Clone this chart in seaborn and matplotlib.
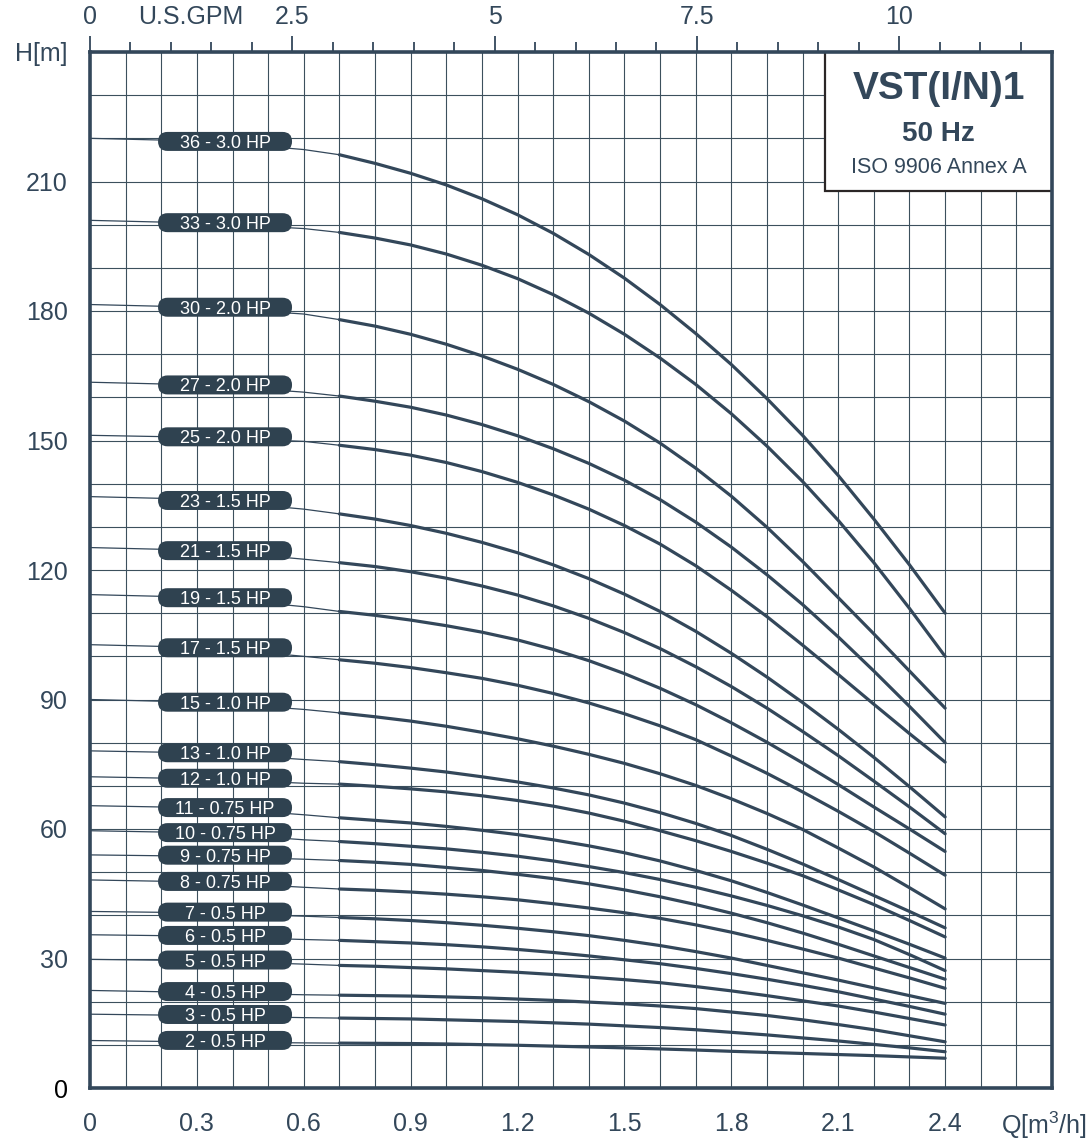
import numpy as np
import pandas as pd
import matplotlib
matplotlib.use("Agg")
import matplotlib.pyplot as plt
import seaborn as sns
from matplotlib.patches import FancyBboxPatch, Rectangle
from matplotlib.transforms import ScaledTranslation
from matplotlib.ticker import MultipleLocator

# ---------------------------------------------------------------- data
flow = [0.0, 0.2, 0.4, 0.6, 0.7, 0.8, 0.9, 1.0, 1.1, 1.2, 1.3, 1.4, 1.5,
        1.6, 1.7, 1.8, 1.9, 2.0, 2.1, 2.2, 2.3, 2.4]

stages = [36, 33, 30, 27, 25, 23, 21, 19, 17, 15, 13, 12, 11, 10, 9, 8, 7, 6, 5, 4, 3, 2]
motor_hp = ["3.0", "3.0", "2.0", "2.0", "2.0", "1.5", "1.5", "1.5", "1.5", "1.0", "1.0",
            "1.0", "0.75", "0.75", "0.75", "0.75", "0.5", "0.5", "0.5", "0.5", "0.5", "0.5"]

head_36 = [220.0, 219.6, 218.8, 217.4, 216.2, 214.2, 211.9, 209.2, 206.0, 202.3, 198.0,
           193.1, 187.6, 181.5, 174.8, 167.6, 159.7, 151.2, 141.9, 131.8, 121.2, 110.0]
head_33 = [201.0, 200.6, 200.0, 199.1, 198.2, 196.9, 195.3, 193.2, 190.6, 187.5, 183.8,
           179.5, 174.6, 169.1, 163.0, 156.2, 148.7, 140.5, 131.5, 121.7, 111.1, 100.0]
head_30 = [181.5, 181.1, 180.4, 179.3, 178.0, 176.5, 174.6, 172.3, 169.6, 166.5, 163.0,
           159.0, 154.5, 149.4, 143.6, 137.1, 129.9, 122.0, 113.6, 105.2, 96.6, 88.0]
head_27 = [163.5, 163.1, 162.4, 161.2, 160.3, 159.1, 157.7, 155.9, 153.7, 151.1, 148.1,
           144.7, 140.8, 136.3, 131.1, 125.3, 118.9, 112.0, 104.5, 96.6, 88.4, 80.0]
head_25 = [151.2, 150.9, 150.4, 149.8, 148.9, 147.9, 146.6, 144.9, 142.8, 140.3, 137.4,
           134.1, 130.3, 126.0, 121.0, 115.3, 109.2, 102.6, 95.8, 88.9, 82.1, 75.5]
head_23 = [137.0, 136.6, 135.6, 134.1, 133.0, 131.8, 130.3, 128.5, 126.4, 124.0, 121.2,
           118.0, 114.4, 110.4, 105.8, 100.7, 95.2, 89.3, 83.1, 76.6, 69.8, 62.8]
head_21 = [125.2, 124.8, 124.0, 122.5, 121.7, 120.8, 119.6, 118.1, 116.3, 114.2, 111.7,
           108.8, 105.5, 101.8, 97.6, 93.0, 88.0, 82.6, 77.0, 71.1, 65.1, 58.9]
head_19 = [114.3, 113.9, 113.1, 111.5, 110.4, 109.5, 108.4, 107.1, 105.6, 103.8, 101.6,
           99.0, 96.0, 92.6, 88.8, 84.6, 80.1, 75.3, 70.3, 65.1, 60.0, 54.8]
head_17 = [102.7, 102.3, 101.5, 100.0, 99.2, 98.4, 97.4, 96.2, 94.9, 93.3, 91.4,
           89.2, 86.7, 83.9, 80.7, 76.9, 72.9, 68.6, 64.1, 59.4, 54.4, 49.3]
head_15 = [90.0, 89.6, 88.9, 87.7, 86.9, 86.0, 85.0, 83.8, 82.4, 80.9, 79.2,
           77.3, 75.2, 72.8, 70.1, 67.0, 63.6, 59.9, 55.6, 51.2, 46.4, 41.5]
head_13 = [78.1, 77.8, 77.2, 76.1, 75.6, 74.9, 74.1, 73.2, 72.1, 70.9, 69.5,
           67.9, 66.0, 63.8, 61.3, 58.5, 55.3, 51.9, 48.3, 44.6, 40.9, 37.1]
head_12 = [72.1, 71.8, 71.3, 70.6, 70.4, 69.9, 69.3, 68.6, 67.7, 66.6, 65.3,
           63.7, 61.8, 59.6, 57.3, 54.8, 52.1, 49.2, 45.9, 42.5, 38.8, 35.0]
head_11 = [65.4, 65.1, 64.5, 63.3, 62.6, 62.0, 61.4, 60.6, 59.7, 58.7, 57.5,
           56.1, 54.5, 52.6, 50.4, 48.0, 45.3, 42.4, 39.4, 36.4, 33.3, 30.1]
head_10 = [59.6, 59.3, 58.7, 57.5, 57.1, 56.6, 56.0, 55.4, 54.6, 53.7, 52.6,
           51.3, 49.9, 48.3, 46.5, 44.5, 42.3, 39.9, 37.3, 34.4, 30.9, 27.2]
head_9 = [54.0, 53.8, 53.5, 53.0, 52.7, 52.3, 51.8, 51.1, 50.4, 49.5, 48.5,
          47.3, 45.9, 44.3, 42.5, 40.5, 38.3, 35.9, 33.3, 30.6, 27.9, 25.2]
head_8 = [48.2, 47.9, 47.4, 46.5, 46.1, 45.8, 45.4, 44.9, 44.3, 43.6, 42.7,
          41.7, 40.6, 39.3, 37.8, 36.1, 34.2, 32.2, 30.1, 27.8, 25.5, 23.1]
head_7 = [40.9, 40.7, 40.3, 39.8, 39.5, 39.2, 38.8, 38.3, 37.7, 37.0, 36.2,
          35.3, 34.2, 33.0, 31.6, 30.1, 28.4, 26.7, 25.0, 23.2, 21.4, 19.6]
head_6 = [35.5, 35.3, 34.9, 34.4, 34.2, 33.9, 33.6, 33.2, 32.7, 32.1, 31.4,
          30.6, 29.7, 28.8, 27.7, 26.5, 25.2, 23.8, 22.3, 20.6, 18.9, 17.1]
head_5 = [29.8, 29.6, 29.2, 28.7, 28.4, 28.2, 27.9, 27.6, 27.2, 26.8, 26.3,
          25.7, 25.1, 24.4, 23.5, 22.5, 21.4, 20.2, 19.0, 17.6, 16.1, 14.6]
head_4 = [22.6, 22.3, 21.9, 21.6, 21.5, 21.4, 21.3, 21.1, 20.9, 20.6, 20.3,
          19.9, 19.5, 19.0, 18.4, 17.6, 16.8, 15.8, 14.7, 13.5, 12.1, 10.7]
head_3 = [17.1, 16.9, 16.6, 16.3, 16.2, 16.1, 16.0, 15.8, 15.6, 15.4, 15.1,
          14.8, 14.4, 14.0, 13.5, 12.9, 12.3, 11.6, 10.9, 10.1, 9.3, 8.4]
head_2 = [11.0, 10.8, 10.6, 10.45, 10.4, 10.35, 10.3, 10.2, 10.05, 9.9, 9.7,
          9.5, 9.3, 9.05, 8.8, 8.5, 8.25, 8.0, 7.75, 7.5, 7.2, 6.9]

heads = [head_36, head_33, head_30, head_27, head_25, head_23, head_21, head_19, head_17,
         head_15, head_13, head_12, head_11, head_10, head_9, head_8, head_7, head_6,
         head_5, head_4, head_3, head_2]

x_ticks = [0, 0.3, 0.6, 0.9, 1.2, 1.5, 1.8, 2.1, 2.4, 2.7]
x_labels = ["0", "0.3", "0.6", "0.9", "1.2", "1.5", "1.8", "2.1", "2.4", ""]
y_ticks = [0, 30, 60, 90, 120, 150, 180, 210, 240]
y_labels = ["0", "30", "60", "90", "120", "150", "180", "210", "H[m]"]
gpm_ticks = [0, 2.5, 5, 7.5, 10]
gpm_labels = ["0", "2.5", "5", "7.5", "10"]

GPM_PER_M3H = 4.402868
THIN_END = 0.7          # curves are drawn thin up to this flow

# ---------------------------------------------------------------- style
INK = "#33475a"
GRID = "#3c505d"
sns.set_theme(style="white")
plt.rcParams["font.family"] = ["Liberation Sans", "DejaVu Sans"]
plt.rcParams["mathtext.fontset"] = "custom"
plt.rcParams["mathtext.rm"] = "Liberation Sans"
plt.rcParams["mathtext.it"] = "Liberation Sans:italic"
plt.rcParams["mathtext.bf"] = "Liberation Sans:bold"

rows = []
for s, h in zip(stages, heads):
    for q, v in zip(flow, h):
        rows.append({"stages": s, "Q": q, "H": v})
df = pd.DataFrame(rows)

fig = plt.figure(figsize=(10.89, 11.42), dpi=100)
fig.patch.set_facecolor("white")
ax = fig.add_axes([90 / 1089, 1 - 1088 / 1142, 962 / 1089, 1036 / 1142])
ax.set_facecolor("white")
ax.set_xlim(0, 2.7)
ax.set_ylim(0, 240)

# grid
ax.set_xticks(np.arange(0, 2.7001, 0.1), minor=True)
ax.set_yticks(np.arange(0, 240.001, 10), minor=True)
ax.grid(True, which="both", color=GRID, linewidth=0.8, zorder=0)
ax.set_axisbelow(True)

# pump curves: thin near shut-off, thick over the working range
thin = df[df["Q"] <= THIN_END]
thick = df[df["Q"] >= THIN_END]
sns.lineplot(data=thin, x="Q", y="H", units="stages", estimator=None, sort=True,
             color=INK, linewidth=0.9, ax=ax, zorder=3, legend=False)
sns.lineplot(data=thick, x="Q", y="H", units="stages", estimator=None, sort=True,
             color=INK, linewidth=2.3, ax=ax, zorder=3, legend=False)
for ln in ax.lines:
    ln.set_solid_joinstyle("round")

# labels on the curves
pill_q = 0.379
pill_w, pill_h = 1.34, 0.19   # inches
for s, hp, h in zip(stages, motor_hp, heads):
    yc = float(np.interp(pill_q, flow, h)) + 0.4
    trans = fig.dpi_scale_trans + ScaledTranslation(pill_q, yc, ax.transData)
    pill = FancyBboxPatch((-pill_w / 2, -pill_h / 2), pill_w, pill_h,
                          boxstyle=f"round,pad=0,rounding_size={pill_h / 2}",
                          transform=trans, facecolor="#2f4250", edgecolor="none",
                          zorder=5, clip_on=False)
    ax.add_patch(pill)
    ax.text(pill_q, yc, f"{s} - {hp} HP", ha="center", va="center_baseline",
            color="white", fontsize=13, zorder=6)

# title box
ax.add_patch(Rectangle((2.063, 207.7), 0.7, 40, facecolor="white",
                       edgecolor="#2b2626", linewidth=1.6, zorder=4))
bx = 2.3815
ax.text(bx, 229.0, "VST(I/N)1", ha="center", va="baseline", fontsize=28,
        fontweight="bold", color=INK, zorder=6)
ax.text(bx, 219.3, "50 Hz", ha="center", va="baseline", fontsize=20,
        fontweight="bold", color=INK, zorder=6)
ax.text(bx, 211.9, "ISO 9906 Annex A", ha="center", va="baseline", fontsize=15.5,
        color=INK, zorder=6)

# axes frame and ticks
for sp in ax.spines.values():
    sp.set_visible(True)
    sp.set_color(INK)
    sp.set_linewidth(2.6)
    sp.set_zorder(10)

ax.set_xticks(x_ticks)
ax.set_xticklabels(x_labels)
ax.set_yticks(y_ticks)
ax.set_yticklabels(y_labels)
ax.tick_params(axis="x", which="major", direction="out", length=11.5, width=1.5,
               color=INK, labelcolor=INK, labelsize=18, pad=6)
ax.tick_params(axis="y", which="major", direction="out", length=13, width=1.1,
               color=INK, labelcolor=INK, labelsize=18, pad=3)
ax.tick_params(which="minor", length=0)
ax.get_yticklabels()[0].set_color("black")
ax.set_xlabel("")
ax.set_ylabel("")

# flow-unit label at the end of the Q axis
ax.annotate(r"Q[m$^{3}$/h]", xy=(2.7, 0.0), xycoords="data",
            xytext=(-6, -15.5), textcoords="offset points", ha="center", va="top",
            fontsize=18, color=INK, annotation_clip=False)

# U.S. GPM scale along the top
sec = ax.secondary_xaxis("top", functions=(lambda q: q * GPM_PER_M3H,
                                            lambda g: g / GPM_PER_M3H))
sec.set_xticks(gpm_ticks)
sec.set_xticklabels(gpm_labels)
sec.xaxis.set_minor_locator(MultipleLocator(0.5))
sec.tick_params(which="major", direction="out", length=11.5, width=1.3, color=INK,
                labelcolor=INK, labelsize=18, pad=5)
sec.tick_params(which="minor", direction="out", length=7, width=1.3, color=INK)
for sp in sec.spines.values():
    sp.set_visible(False)
ax.annotate("U.S.GPM", xy=(1.25 / GPM_PER_M3H, 1.0), xycoords=("data", "axes fraction"),
            xytext=(0, 16.5), textcoords="offset points", ha="center", va="bottom",
            fontsize=18, color=INK, annotation_clip=False)

fig.savefig("out.png", dpi=100, facecolor="white")
